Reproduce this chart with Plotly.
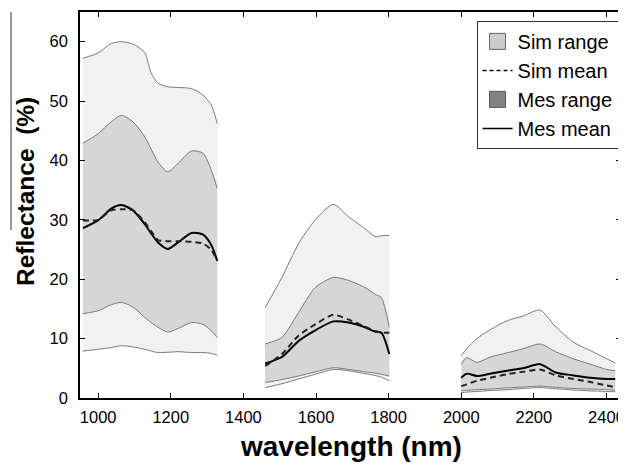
import plotly.graph_objects as go

# ---- data ----
x1 = [958, 1000, 1036, 1064, 1096, 1128, 1146, 1165, 1192, 1220, 1257, 1289, 1312, 1328]
sim_hi1 = [57.2, 58.1, 59.7, 60.0, 59.6, 58.2, 54.7, 53.0, 52.4, 52.3, 52.1, 51.0, 49.3, 46.2]
mes_hi1 = [42.9, 44.5, 46.5, 47.6, 46.5, 44.0, 41.9, 39.7, 38.1, 39.5, 41.6, 41.2, 38.3, 35.3]
mes_mean1 = [28.6, 29.9, 31.9, 32.5, 31.6, 29.3, 27.7, 26.2, 25.1, 26.2, 27.8, 27.5, 25.7, 23.1]
sim_mean1 = [29.9, 30.0, 31.6, 31.8, 31.6, 29.6, 28.1, 26.6, 26.4, 26.4, 26.3, 26.0, 24.9, 23.1]
mes_lo1 = [14.2, 14.7, 15.7, 16.1, 15.3, 13.6, 12.7, 11.9, 11.1, 11.7, 12.7, 12.4, 11.3, 10.2]
sim_lo1 = [7.9, 8.2, 8.5, 8.8, 8.6, 8.2, 7.9, 7.65, 7.7, 7.8, 7.65, 7.65, 7.5, 7.2]

x2 = [1460, 1506, 1552, 1598, 1648, 1690, 1735, 1762, 1780, 1802]
sim_hi2 = [15.25, 20.3, 26.0, 30.0, 32.6, 30.5, 28.5, 27.2, 27.3, 27.4]
mes_hi2 = [9.1, 10.2, 14.4, 18.6, 20.3, 19.8, 18.6, 17.5, 16.9, 11.9]
mes_mean2 = [5.8, 6.9, 9.6, 11.4, 12.9, 12.7, 11.9, 11.2, 11.0, 7.4]
sim_mean2 = [5.4, 7.4, 10.5, 12.4, 14.0, 13.2, 12.0, 11.3, 11.0, 11.0]
mes_lo2 = [2.6, 3.1, 3.7, 4.4, 5.1, 4.8, 4.4, 4.2, 4.0, 3.7]
sim_lo2 = [1.75, 2.4, 3.2, 4.0, 4.8, 4.6, 4.1, 3.8, 3.5, 2.9]

x3 = [2000, 2015, 2043, 2080, 2126, 2170, 2217, 2260, 2309, 2355, 2401, 2424]
sim_hi3 = [7.1, 8.3, 10.0, 11.5, 13.0, 13.8, 14.8, 12.0, 9.4, 8.0, 6.6, 5.9]
mes_hi3 = [5.7, 6.8, 6.0, 6.9, 7.6, 8.3, 9.1, 7.8, 6.6, 5.7, 4.8, 4.6]
mes_mean3 = [3.4, 4.1, 3.7, 4.1, 4.6, 5.0, 5.7, 4.3, 3.8, 3.4, 3.2, 3.2]
sim_mean3 = [2.0, 2.3, 2.9, 3.4, 4.0, 4.4, 4.8, 3.8, 3.2, 2.7, 2.1, 1.8]
mes_lo3 = [1.2, 1.3, 1.4, 1.5, 1.7, 1.85, 2.0, 1.8, 1.6, 1.5, 1.4, 1.3]
sim_lo3 = [0.9, 1.0, 1.1, 1.25, 1.4, 1.6, 1.75, 1.55, 1.35, 1.2, 1.1, 1.05]

legend_names = ["Sim range", "Sim mean", "Mes range", "Mes mean"]
x_ticks = [1000, 1200, 1400, 1600, 1800, 2000, 2200, 2400]
y_ticks = [0, 10, 20, 30, 40, 50, 60]
x_title = "wavelength (nm)"
y_title = "Reflectance\u00a0\u00a0(%)"

regions = [
    (x1, sim_lo1, sim_hi1, mes_lo1, mes_hi1, sim_mean1, mes_mean1),
    (x2, sim_lo2, sim_hi2, mes_lo2, mes_hi2, sim_mean2, mes_mean2),
    (x3, sim_lo3, sim_hi3, mes_lo3, mes_hi3, sim_mean3, mes_mean3),
]

SIM_FILL = "#f1f1f1"
MES_FILL = "#d6d6d6"
EDGE = "#7a7a7a"
FONT = "Liberation Sans, Arial, sans-serif"

fig = go.Figure()
for xs, slo, shi, mlo, mhi, smean, mmean in regions:
    edge = dict(color=EDGE, width=1, shape="spline", smoothing=0.7)
    fig.add_trace(go.Scatter(x=xs, y=slo, mode="lines", line=edge, showlegend=False, hoverinfo="skip"))
    fig.add_trace(go.Scatter(x=xs, y=shi, mode="lines", line=edge, fill="tonexty",
                             fillcolor=SIM_FILL, showlegend=False, hoverinfo="skip"))
    fig.add_trace(go.Scatter(x=xs, y=mlo, mode="lines", line=edge, showlegend=False, hoverinfo="skip"))
    fig.add_trace(go.Scatter(x=xs, y=mhi, mode="lines", line=edge, fill="tonexty",
                             fillcolor=MES_FILL, showlegend=False, hoverinfo="skip"))
    fig.add_trace(go.Scatter(x=xs, y=mmean, mode="lines", showlegend=False,
                             line=dict(color="black", width=2, shape="spline", smoothing=0.7)))
    fig.add_trace(go.Scatter(x=xs, y=smean, mode="lines", showlegend=False,
                             line=dict(color="#222", width=2, dash="6px,4px", shape="spline", smoothing=0.7)))

# legend entries
fig.add_trace(go.Scatter(x=[None], y=[None], mode="markers", name=legend_names[0],
                         marker=dict(symbol="square", size=17, color="#cdcdcd",
                                     line=dict(color="#666", width=1))))
fig.add_trace(go.Scatter(x=[None], y=[None], mode="lines", name=legend_names[1],
                         line=dict(color="black", width=1.5, dash="4px,3px")))
fig.add_trace(go.Scatter(x=[None], y=[None], mode="markers", name=legend_names[2],
                         marker=dict(symbol="square", size=17, color="#838383",
                                     line=dict(color="#555", width=1))))
fig.add_trace(go.Scatter(x=[None], y=[None], mode="lines", name=legend_names[3],
                         line=dict(color="black", width=1.5)))

axis_common = dict(showline=True, linecolor="black", linewidth=1.6, mirror="ticks",
                   ticks="inside", ticklen=5, tickwidth=1.4, tickcolor="black",
                   showgrid=False, zeroline=False, automargin=False,
                   tickfont=dict(family=FONT, size=16.5, color="black"))

# page body has an 8px margin: figure is placed at (8, 8); keep the page inside the window
fig.update_layout(
    width=618, height=454,
    margin=dict(l=72, r=5, t=4, b=64),
    paper_bgcolor="white", plot_bgcolor="white",
    font=dict(family=FONT, color="black"),
    xaxis=dict(range=[950, 2440], tickvals=x_ticks, ticklabelstandoff=3, **axis_common),
    yaxis=dict(range=[0, 65], tickvals=y_ticks, ticklabelstandoff=7, **axis_common),
    legend=dict(x=0.733, y=0.977, xanchor="left", yanchor="top", traceorder="normal",
                bgcolor="white", bordercolor="#333", borderwidth=1,
                font=dict(family=FONT, size=20, color="black"),
                tracegroupgap=0, itemwidth=30, itemsizing="trace"),
    annotations=[
        dict(text="<b>" + x_title + "</b>", xref="paper", yref="paper",
             x=0.5, y=(398 - 446) / 386, xanchor="center", yanchor="middle",
             showarrow=False, font=dict(family=FONT, size=28, color="black")),
        dict(text="<b>" + y_title + "</b>", xref="paper", yref="paper",
             x=(25 - 80) / 541, y=(398 - 192) / 386, xanchor="center", yanchor="middle",
             textangle=-90, showarrow=False, font=dict(family=FONT, size=24.5, color="black")),
    ],
    shapes=[dict(type="line", xref="paper", yref="paper", x0=-0.1275, x1=-0.1275,
                 y0=1.0, y1=0.435, line=dict(color="#333", width=1))],
)

fig.write_html("out.html")
